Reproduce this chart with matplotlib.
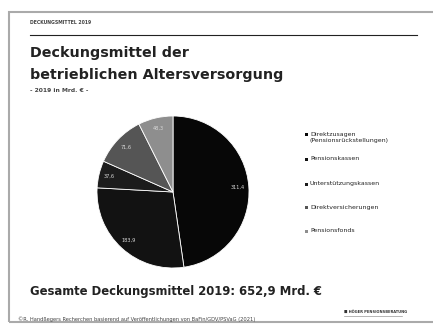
import matplotlib
matplotlib.use("Agg")
import matplotlib.pyplot as plt
from matplotlib.patches import Rectangle
from matplotlib.lines import Line2D
import numpy as np

categories = ["Direktzusagen\n(Pensionsrückstellungen)", "Pensionskassen",
              "Unterstützungskassen", "Direktversicherungen", "Pensionsfonds"]
values = [311.4, 183.9, 37.6, 71.6, 48.3]
value_labels = ["311,4", "183,9", "37,6", "71,6", "48,3"]
colors = ["#070707", "#121212", "#1c1c1c", "#555555", "#8e8e8e"]

W, H = 433, 324
fig = plt.figure(figsize=(W / 100, H / 100), dpi=100)
fig.patch.set_facecolor("white")

def fx(x): return x / W
def fy(y): return 1 - y / H

# slide frame
fig.add_artist(Rectangle((fx(9), fy(322)), fx(440), 310 / H, transform=fig.transFigure,
                         fill=False, edgecolor="#aaaaaa", linewidth=1.5))
fig.text(fx(30), fy(22), "DECKUNGSMITTEL 2019", fontsize=3.3, fontweight="bold",
         color="#444444", va="center")
fig.add_artist(Line2D([fx(30), fx(417)], [fy(35), fy(35)], color="#222222", linewidth=0.8))
fig.text(fx(30), fy(53), "Deckungsmittel der", fontsize=10.3, fontweight="bold",
         color="#222222", va="center")
fig.text(fx(30), fy(75), "betrieblichen Altersversorgung", fontsize=10.3, fontweight="bold",
         color="#222222", va="center")
fig.text(fx(30), fy(91), "- 2019 in Mrd. € -", fontsize=4.3, fontweight="bold",
         color="#444444", va="center")

# pie
cx, cy, r = 173, 192, 76
ax = fig.add_axes([fx(cx - r), fy(cy + r), 2 * r / W, 2 * r / H])
wedges, _ = ax.pie(values, colors=colors, startangle=90, counterclock=False,
                   wedgeprops=dict(edgecolor="white", linewidth=0.6))
ax.set_aspect("auto")
tot = sum(values)
start = 90
for v, lab in zip(values, value_labels):
    ang = start - v / tot * 360 / 2
    start -= v / tot * 360
    rr = 0.86
    ax.text(rr * np.cos(np.radians(ang)), rr * np.sin(np.radians(ang)), lab,
            fontsize=3.6, color="#d8d8d8", ha="center", va="center")
ax.set_xlim(-1, 1)
ax.set_ylim(-1, 1)
ax.axis("off")

# legend
leg_y = [134, 159, 184, 207, 231]
for lab, c, y in zip(categories, colors, leg_y):
    fig.add_artist(Rectangle((fx(305), fy(y + 1.5)), 3 / W, 3 / H,
                             transform=fig.transFigure, facecolor=c, edgecolor="none"))
    lines = lab.split("\n")
    for i, l in enumerate(lines):
        fig.text(fx(310), fy(y + 7 * i), l, fontsize=4.5, color="#222222", va="center")

fig.text(fx(30), fy(292), "Gesamte Deckungsmittel 2019: 652,9 Mrd. €", fontsize=8.4,
         fontweight="bold", color="#222222", va="center")
fig.text(fx(18), fy(319), "©R. Handßegers Recherchen basierend auf Veröffentlichungen von BaFin/GDV/PSVaG (2021)",
         fontsize=3.7, color="#444444", va="center")
fig.text(fx(344), fy(312), "■ HÖGER PENSIONSBERATUNG", fontsize=2.6, fontweight="bold",
         color="#333333", va="center")
fig.add_artist(Line2D([fx(344), fx(402)], [fy(316), fy(316)], color="#999999", linewidth=0.5))

fig.savefig("out.png", dpi=100, facecolor="white")
